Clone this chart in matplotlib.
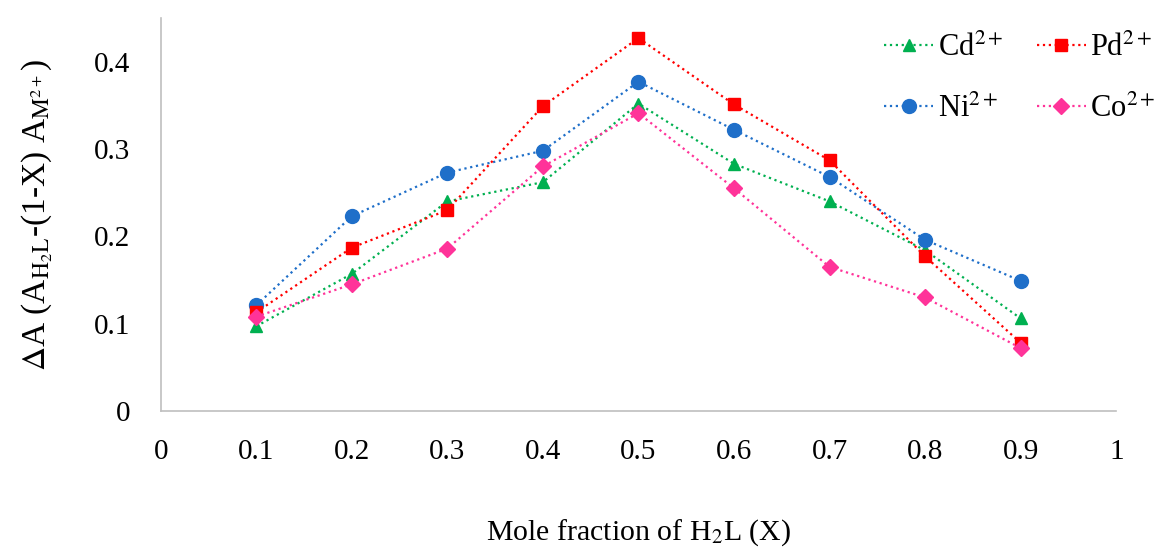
import matplotlib
matplotlib.use("Agg")
import matplotlib.pyplot as plt

plt.rcParams['font.family'] = ['Liberation Serif', 'DejaVu Serif']
plt.rcParams['mathtext.fontset'] = 'stix'

# mole fraction of H2L
x = [0.1, 0.2, 0.3, 0.4, 0.5, 0.6, 0.7, 0.8, 0.9]

cd = [0.097, 0.157, 0.240, 0.262, 0.352, 0.283, 0.240, 0.184, 0.106]
pd = [0.113, 0.187, 0.230, 0.349, 0.427, 0.351, 0.287, 0.177, 0.078]
ni = [0.121, 0.223, 0.273, 0.298, 0.377, 0.322, 0.268, 0.196, 0.149]
co = [0.108, 0.145, 0.186, 0.280, 0.341, 0.255, 0.165, 0.130, 0.072]

xticks = [0, 0.1, 0.2, 0.3, 0.4, 0.5, 0.6, 0.7, 0.8, 0.9, 1]
xtick_labels = ['0', '0.1', '0.2', '0.3', '0.4', '0.5', '0.6', '0.7', '0.8', '0.9', '1']
yticks = [0, 0.1, 0.2, 0.3, 0.4]
ytick_labels = ['0', '0.1', '0.2', '0.3', '0.4']

fig = plt.figure(figsize=(11.64, 5.52), dpi=100)
ax = fig.add_axes([0.138, 0.2554, 0.821, 0.712])

ax.plot(x, cd, ':', color='#00B050', marker='^', markersize=9, lw=1.6, label='Cd$^{2+}$')
ax.plot(x, ni, ':', color='#1F6FC9', marker='o', markersize=10, lw=1.6, label='Ni$^{2+}$')
ax.plot(x, pd, ':', color='#FF0000', marker='s', markersize=9, lw=1.6, label='Pd$^{2+}$')
ax.plot(x, co, ':', color='#FF3399', marker='D', markersize=8, lw=1.6, label='Co$^{2+}$')

ax.set_xlim(0, 1)
ax.set_ylim(0, 0.45)
ax.set_xticks(xticks)
ax.set_xticklabels(xtick_labels)
ax.set_yticks(yticks)
ax.set_yticklabels(ytick_labels)
ax.tick_params(length=0, labelsize=21)
ax.tick_params(axis='x', pad=20)
ax.tick_params(axis='y', pad=22)

for s in ['top', 'right']:
    ax.spines[s].set_visible(False)
for s in ['left', 'bottom']:
    ax.spines[s].set_color('#BFBFBF')
    ax.spines[s].set_linewidth(1.2)

ax.set_xlabel('Mole fraction of H$_2$L (X)', fontsize=21.5, labelpad=38)
ax.set_ylabel(r'$\Delta$A (A$_{\mathrm{H_2L}}$-(1-X) A$_{\mathrm{M^{2+}}}$)', fontsize=24, labelpad=28)

ax.legend(ncol=2, loc='upper right', bbox_to_anchor=(1.07, 1.03), frameon=False,
          fontsize=22, handlelength=1.6, handletextpad=0.15, labelspacing=1.05,
          columnspacing=1.1)

fig.savefig('out.png', dpi=100)
